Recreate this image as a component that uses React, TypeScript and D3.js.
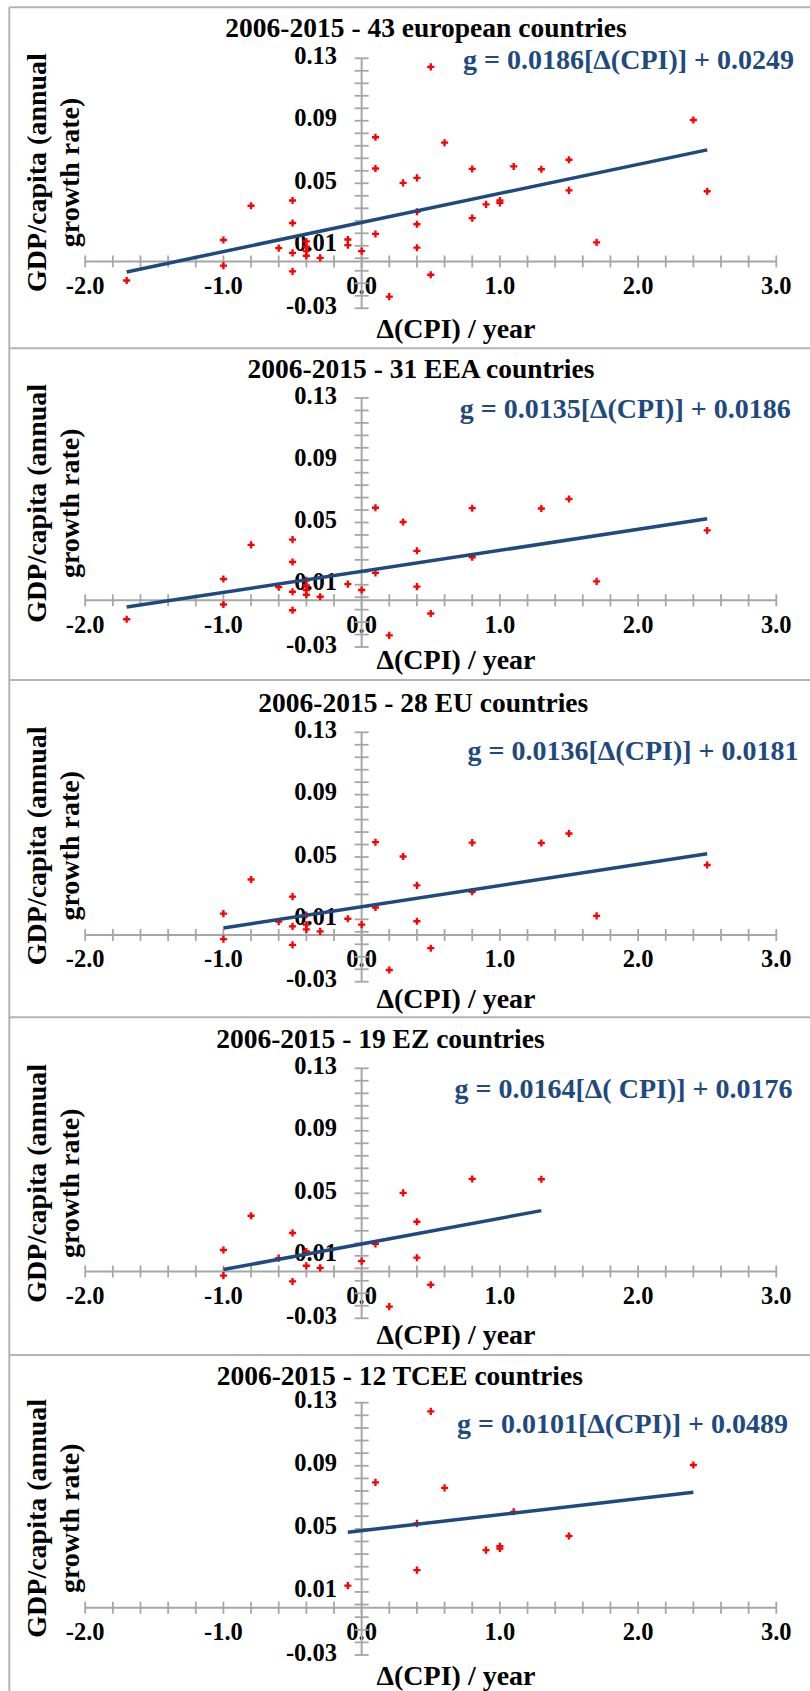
import React from "react";
import * as d3 from "d3";

// ---------- data ----------
const titles = [
  "2006-2015 - 43 european countries",
  "2006-2015 - 31 EEA countries",
  "2006-2015 - 28 EU countries",
  "2006-2015 - 19 EZ countries",
  "2006-2015 - 12 TCEE countries",
];
const equations = [
  "g = 0.0186[Δ(CPI)] + 0.0249",
  "g = 0.0135[Δ(CPI)] + 0.0186",
  "g = 0.0136[Δ(CPI)] + 0.0181",
  "g = 0.0164[Δ( CPI)] + 0.0176",
  "g = 0.0101[Δ(CPI)] + 0.0489",
];
const slopes = [0.0186, 0.0135, 0.0136, 0.0164, 0.0101];
const intercepts = [0.0249, 0.0186, 0.0181, 0.0176, 0.0489];

// [Δ(CPI)/year, GDP per capita growth]
const ezPoints: [number, number][] = [
  [-1.0, 0.0137], [-1.0, -0.0027], [-0.8, 0.0356], [-0.6, 0.0085],
  [-0.5, 0.0246], [-0.5, -0.0064], [-0.4, 0.0128], [-0.4, 0.0036],
  [-0.3, 0.0023], [0.0, 0.0066], [0.1, 0.0176], [0.2, -0.0225],
  [0.3, 0.0503], [0.4, 0.0318], [0.4, 0.0088], [0.5, -0.0085],
  [0.8, 0.0592], [1.3, 0.059],
];
const euNonEzPoints: [number, number][] = [
  [-0.5, 0.0055], [-0.4, 0.0066], [-0.1, 0.0104], [0.1, 0.0595],
  [0.8, 0.0277], [1.5, 0.0651], [1.7, 0.0122], [2.5, 0.0449],
];
const eeaNonEuPoints: [number, number][] = [
  [-1.7, -0.0122], [-0.5, 0.039], [-0.4, 0.0095],
];
const tceePoints: [number, number][] = [
  [-0.1, 0.014], [0.1, 0.0795], [0.4, 0.0535], [0.4, 0.0238],
  [0.5, 0.1245], [0.6, 0.076], [0.9, 0.0365], [1.0, 0.039],
  [1.0, 0.0375], [1.1, 0.0608], [1.5, 0.0455], [2.4, 0.0905],
];
const panelGroups = [
  [ezPoints, euNonEzPoints, eeaNonEuPoints, tceePoints],
  [ezPoints, euNonEzPoints, eeaNonEuPoints],
  [ezPoints, euNonEzPoints],
  [ezPoints],
  [tceePoints],
];

const xMajorTicks = [-2, -1, 0, 1, 2, 3];
const yMajorTicks = [0.13, 0.09, 0.05, 0.01, -0.03];
const xDomain: [number, number] = [-2, 3];
const yDomain: [number, number] = [-0.03, 0.13];
const xMinorStep = 0.2;
const yMinorStep = 0.008;

// ---------- layout ----------
const W = 810;
const H = 1691;
const panelTop = [7.3, 348.3, 680, 1017.3, 1355];
const yTopPx = [58.3, 398, 732.3, 1068.3, 1402.7];
const yBotPx = [308.3, 647, 981.7, 1318.3, 1655];
const titleX = [426, 421, 423.3, 380.4, 399.8];
const titleY = [37.3, 377.7, 712.3, 1048.3, 1385];
const eqX = [463, 459.7, 467.5, 454.5, 457];
const eqY = [69.3, 417.7, 760, 1097.7, 1432.7];
const yLabelCY = [172.5, 503.3, 845.8, 1183.3, 1518.3];
const xTitleY = [338.3, 669, 1007.7, 1344.3, 1685];

const FONT = "'Liberation Serif', 'Times New Roman', serif";
const AXIS = "#a6a6a6";
const BLUE = "#1f4a7e";
const BORDER = "#b4b4b4";

const locale = d3.formatLocale({ decimal: ".", thousands: ",", grouping: [3], currency: ["", ""], minus: "-" });
const x = d3.scaleLinear().domain(xDomain).range([85.2, 776.3]);
const fx = locale.format(".1f");
const fy = locale.format(".2f");
const xMinor = d3.range(0, Math.round((xDomain[1] - xDomain[0]) / xMinorStep) + 1).map((i) => xDomain[0] + i * xMinorStep);
const yMinor = d3.range(0, Math.round((yDomain[1] - yDomain[0]) / yMinorStep) + 1).map((i) => yDomain[1] - i * yMinorStep);
const cross = d3.symbol().type(d3.symbolCross).size(28)();

function Panel({ i }: { i: number }) {
  const y = d3.scaleLinear().domain(yDomain).range([yBotPx[i], yTopPx[i]]);
  const pts = panelGroups[i].flat();
  const [x0, x1] = d3.extent(pts, (d) => d[0]) as [number, number];
  const line = d3.line<number>().x((v) => x(v)).y((v) => y(slopes[i] * v + intercepts[i]));
  const y0 = y(0);
  const xa = x(0);
  return (
    <g>
      <text x={titleX[i]} y={titleY[i]} textAnchor="middle" fontFamily={FONT} fontWeight="bold" fontSize={27.5} fill="#000">
        {titles[i]}
      </text>
      {/* y axis label */}
      <g transform={`translate(0,${yLabelCY[i]})`}>
        <text transform="translate(45.5,0) rotate(-90)" textAnchor="middle" fontFamily={FONT} fontWeight="bold" fontSize={28}>
          GDP/capita (annual
        </text>
        <text transform="translate(78.5,0) rotate(-90)" textAnchor="middle" fontFamily={FONT} fontWeight="bold" fontSize={28}>
          growth rate)
        </text>
      </g>
      {/* tick labels */}
      {yMajorTicks.map((t) => (
        <text key={"yl" + t} x={337} y={y(t) + 5.5} textAnchor="end" fontFamily={FONT} fontWeight="bold" fontSize={24.5}>
          {fy(t)}
        </text>
      ))}
      {xMajorTicks.map((t) => (
        <text key={"xl" + t} x={x(t)} y={y0 + 32.5} textAnchor="middle" fontFamily={FONT} fontWeight="bold" fontSize={24.5}>
          {fx(t)}
        </text>
      ))}
      {/* axes */}
      <line x1={x(xDomain[0])} x2={x(xDomain[1])} y1={y0} y2={y0} stroke={AXIS} strokeWidth={2} />
      {xMinor.map((t, k) => (
        <line key={"xt" + k} x1={x(t)} x2={x(t)} y1={y0 - 6} y2={y0 + 6} stroke={AXIS} strokeWidth={1.8} />
      ))}
      <line x1={xa} x2={xa} y1={y(yDomain[1])} y2={y(yDomain[0])} stroke={AXIS} strokeWidth={2} />
      {yMinor.map((t, k) => (
        <line key={"yt" + k} x1={xa - 7} x2={xa + 7} y1={y(t)} y2={y(t)} stroke={AXIS} strokeWidth={1.8} />
      ))}
      {/* points */}
      {pts.map((d, k) => (
        <path key={"p" + k} d={cross} transform={`translate(${x(d[0])},${y(d[1])})`} fill="#ff0000" />
      ))}
      {/* trend line */}
      <path d={line([x0, x1]) || ""} stroke={BLUE} strokeWidth={3.5} fill="none" />
      <text x={eqX[i]} y={eqY[i]} fontFamily={FONT} fontWeight="bold" fontSize={28} fill={BLUE}>
        {equations[i]}
      </text>
      <text x={456} y={xTitleY[i]} textAnchor="middle" fontFamily={FONT} fontWeight="bold" fontSize={28}>
        Δ(CPI) / year
      </text>
    </g>
  );
}

export default function App() {
  return (
    <svg width={W} height={H} viewBox={`0 0 ${W} ${H}`} style={{ position: "absolute", left: 0, top: 0, display: "block", background: "#fff" }}>
      <rect x={0} y={0} width={W} height={H} fill="#fff" />
      <line x1={9.3} x2={9.3} y1={panelTop[0]} y2={H} stroke={BORDER} strokeWidth={2} />
      {panelTop.map((t, k) => (
        <line key={"b" + k} x1={9.3} x2={W} y1={t} y2={t} stroke={BORDER} strokeWidth={2} />
      ))}
      {titles.map((_, i) => (
        <Panel key={i} i={i} />
      ))}
    </svg>
  );
}
